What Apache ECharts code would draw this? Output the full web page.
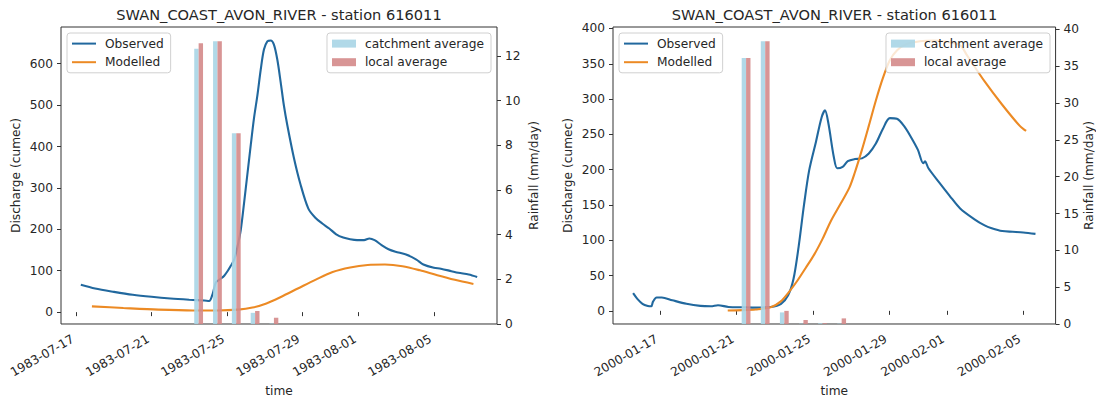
<!DOCTYPE html>
<html><head><meta charset="utf-8">
<script src="https://cdn.jsdelivr.net/npm/echarts@6/dist/echarts.min.js"></script>
<style>html,body{margin:0;padding:0;background:#fff}#c{width:1096px;height:402px}</style>
</head><body><div id="c"></div>
<script>
// ---------------- DATA ----------------
const chartTitle = 'SWAN_COAST_AVON_RIVER - station 616011';
const lineNames = ['Observed', 'Modelled'];
const barNames = ['catchment average', 'local average'];
const yNameQ = 'Discharge (cumec)';
const yNameRain = 'Rainfall (mm/day)';
const xName = 'time';

// Left event: times are days after leftStart
const leftStart = '1983-07-17';
const leftObsDay = [0.24,1.0,2.0,3.0,4.0,5.0,6.0,6.8,7.06,7.25,7.42,7.65,7.86,8.05,8.21,8.39,8.57,8.74,8.91,9.09,9.27,9.44,9.62,9.80,9.97,10.15,10.33,10.50,10.68,10.86,11.03,11.21,11.56,11.91,12.33,12.70,13.07,13.44,13.81,14.18,14.55,14.92,15.29,15.57,15.85,16.22,16.59,16.96,17.52,18.07,18.44,19.0,19.37,19.93,20.3,20.85,21.3];
const leftObsVal = [66,57,49,42,37,33,30,28,27,45,72,80,88,100,112,127,159,199,262,333,404,468,523,586,634,654,656,646,610,555,499,452,373,309,250,228,214,202,188,180,176,174,174,178,174,162,152,146,139,127,115,107,105,99,95,91,85];
const leftModDay = [0.83,2.5,4.36,6.2,7.5,8.6,9.36,10.1,10.84,11.77,12.7,13.62,14.55,15.48,16.4,17.33,18.26,19.18,20.11,21.1];
const leftModVal = [14,10,6,4,4,6,11,21,36,57,78,97,108,114,115,111,101,89,78,68];
const leftRainDate = ['1983-07-23','1983-07-24','1983-07-25','1983-07-26','1983-07-27'];
const leftCatch = [12.33,12.67,8.54,0.5,0.02];
const leftLocal = [12.57,12.67,8.54,0.58,0.28];
const leftDateTicks = ['1983-07-17','1983-07-21','1983-07-25','1983-07-29','1983-08-01','1983-08-05'];
const leftQTicks = [0,100,200,300,400,500,600];
const leftRainTicks = [0,2,4,6,8,10,12];

// Right event: times are days after rightStart
const rightStart = '2000-01-17';
const rightObsDay = [-1.41,-1.19,-0.92,-0.64,-0.46,-0.37,-0.18,0.09,0.64,1.38,2.11,2.66,3.03,3.58,4.31,5.05,5.78,6.33,6.7,6.98,7.25,7.53,7.8,8.16,8.45,8.63,8.81,9.09,9.27,9.55,9.82,10.19,10.56,10.92,11.29,11.66,12.02,12.39,12.76,13.13,13.49,13.77,13.86,14.04,14.6,15.15,15.7,16.43,16.98,17.35,17.9,18.45,19.0,19.64];
const rightObsVal = [25,17,10,7,6.5,13,19,19,15,10,7,6.5,8,5.5,5,4.6,5.5,10,22,45,91,150,199,240,274,284,265,218,202,204,212,215,216,223,237,258,273,272,262,246,228,209,212,202,182,163,145,130,121,117,113,112,111,109];
const rightModDay = [3.54,4.3,5.0,5.79,6.3,6.75,7.19,7.6,8.07,8.5,8.95,9.45,9.91,10.19,10.56,10.92,11.29,11.66,12.02,12.39,12.9,13.6,14.3,15.0,15.7,16.06,16.98,17.9,18.82,19.15];
const rightModVal = [0.5,1,2,5,13,27,43,60,80,102,128,152,175,196,228,262,298,330,355,369,378,382,383,381,376,362,325,292,262,255];
const rightRainDate = ['2000-01-21','2000-01-22','2000-01-23','2000-01-24','2000-01-25','2000-01-26'];
const rightCatch = [36.1,38.4,1.57,0.05,0.1,0.05];
const rightLocal = [36.1,38.4,1.78,0.54,0.1,0.76];
const rightDateTicks = ['2000-01-17','2000-01-21','2000-01-25','2000-01-29','2000-02-01','2000-02-05'];
const rightQTicks = [0,50,100,150,200,250,300,350,400];
const rightRainTicks = [0,5,10,15,20,25,30,35,40];

// ---------------- STYLE ----------------
const W = 1096;
const FONT = 'DejaVu Sans';
const C_OBS = '#21689e', C_MOD = '#ec8a24', C_CATCH = '#a8d5e5', C_LOCAL = '#d48a8a';
const INK = '#262626', SPINE = '#333333';
const FS = 12.2, TFS = 14.6;
const grids = [
  {left: 61, top: 27, width: 436, height: 301},
  {left: 613, top: 27, width: 443, height: 302}
];

// ---------------- HELPERS ----------------
const DAY = 86400000;
const ts = s => Date.parse(s + 'T00:00:00Z');
const toTs = (start, d) => ts(start) + d * DAY;
const pad2 = n => (n < 10 ? '0' : '') + n;
const fmtDate = v => { const d = new Date(v); return d.getUTCFullYear() + '-' + pad2(d.getUTCMonth() + 1) + '-' + pad2(d.getUTCDate()); };
const lim = (lo, hi) => { const r = hi - lo; return [lo - 0.05 * r, hi + 0.05 * r]; };
function textW(t, size) { const c = document.createElement('canvas').getContext('2d'); c.font = size + 'px "' + FONT + '"'; return c.measureText(t).width; }

function buildPanel(i, start, obsDay, obsVal, modDay, modVal, rainDate, catchV, localV, dateTicks, qTicks, rainTicks, yNameGapR) {
  const g = grids[i];
  const obs = obsDay.map((d, k) => [toTs(start, d), obsVal[k]]);
  const mod = modDay.map((d, k) => [toTs(start, d), modVal[k]]);
  const xs = obs.concat(mod).map(p => p[0]);
  const xl = lim(Math.min(...xs), Math.max(...xs));
  const ys = obsVal.concat(modVal);
  const yl = lim(Math.min(...ys), Math.max(...ys));
  const rainMax = Math.max(...catchV, ...localV) * 1.05;
  const barX = rainDate.map(s => ts(s) + 0.5 * DAY);
  const tickTs = dateTicks.map(ts);
  const tickStyle = {show: true, length: 4, lineStyle: {color: SPINE, width: 1}};
  const labStyle = {color: INK, fontSize: FS, fontFamily: FONT};
  const nameStyle = {color: INK, fontSize: FS, fontFamily: FONT};
  const xAxis = {
    gridIndex: i, type: 'value', min: xl[0], max: xl[1],
    axisLine: {show: false}, splitLine: {show: false},
    axisTick: Object.assign({customValues: tickTs}, tickStyle),
    axisLabel: Object.assign({customValues: tickTs, formatter: fmtDate, rotate: 30, margin: 12, padding: [0, 4, 0, 0]}, labStyle),
    name: xName, nameLocation: 'middle', nameGap: 59, nameTextStyle: nameStyle
  };
  const yQ = {
    gridIndex: i, type: 'value', position: 'left', min: yl[0], max: yl[1],
    axisLine: {show: false}, splitLine: {show: false},
    axisTick: Object.assign({customValues: qTicks}, tickStyle),
    axisLabel: Object.assign({customValues: qTicks, margin: 8}, labStyle),
    name: yNameQ, nameLocation: 'middle', nameGap: 39, nameTextStyle: nameStyle
  };
  const yR = {
    gridIndex: i, type: 'value', position: 'right', min: 0, max: rainMax,
    axisLine: {show: false}, splitLine: {show: false},
    axisTick: Object.assign({customValues: rainTicks}, tickStyle),
    axisLabel: Object.assign({customValues: rainTicks, margin: 8}, labStyle),
    name: yNameRain, nameLocation: 'middle', nameGap: yNameGapR, nameTextStyle: nameStyle
  };
  const xi = i, yqi = 2 * i, yri = 2 * i + 1;
  const series = [
    {type: 'line', name: lineNames[0], xAxisIndex: xi, yAxisIndex: yqi, data: obs, showSymbol: false, smooth: 0.3,
      lineStyle: {width: 2.1, color: C_OBS}, itemStyle: {color: C_OBS}, z: 2},
    {type: 'line', name: lineNames[1], xAxisIndex: xi, yAxisIndex: yqi, data: mod, showSymbol: false, smooth: 0.3,
      lineStyle: {width: 2.1, color: C_MOD}, itemStyle: {color: C_MOD}, z: 2},
    {type: 'bar', name: barNames[0], xAxisIndex: xi, yAxisIndex: yri, data: barX.map((x, k) => [x, catchV[k]]),
      barWidth: 4.4, barGap: '0%', itemStyle: {color: C_CATCH, opacity: 0.9}, z: 3},
    {type: 'bar', name: barNames[1], xAxisIndex: xi, yAxisIndex: yri, data: barX.map((x, k) => [x, localV[k]]),
      barWidth: 4.4, barGap: '0%', itemStyle: {color: C_LOCAL, opacity: 0.9}, z: 3}
  ];
  const legBase = {
    orient: 'vertical', top: 33, icon: 'rect', itemWidth: 24, itemGap: 6.6, selectedMode: false,
    padding: [4.6, 7, 4.6, 5], backgroundColor: 'rgba(255,255,255,0.8)', borderColor: '#d0d0d0', borderWidth: 1, borderRadius: 3,
    textStyle: {color: INK, fontSize: FS, fontFamily: FONT, padding: [0, 0, 0, 4]},
    itemStyle: {borderWidth: 0}, z: 6
  };
  const legends = [
    Object.assign({}, legBase, {data: lineNames, left: g.left + 6, itemHeight: 2}),
    Object.assign({}, legBase, {data: barNames, right: W - (g.left + g.width) + 6, itemHeight: 8})
  ];
  const tw = textW(chartTitle, TFS);
  const title = {text: chartTitle, left: g.left + g.width / 2 - tw / 2, top: 7, padding: 0,
    textStyle: {fontSize: TFS, fontWeight: 'normal', color: INK, fontFamily: FONT}};
  return {xAxis, yAxes: [yQ, yR], series, legends, title};
}

const P0 = buildPanel(0, leftStart, leftObsDay, leftObsVal, leftModDay, leftModVal, leftRainDate, leftCatch, leftLocal, leftDateTicks, leftQTicks, leftRainTicks, 31);
const P1 = buildPanel(1, rightStart, rightObsDay, rightObsVal, rightModDay, rightModVal, rightRainDate, rightCatch, rightLocal, rightDateTicks, rightQTicks, rightRainTicks, 25);

const option = {
  animation: false,
  backgroundColor: '#ffffff',
  textStyle: {fontFamily: FONT},
  title: [P0.title, P1.title],
  grid: grids.map(g => Object.assign({show: true, borderColor: SPINE, borderWidth: 1, backgroundColor: 'transparent', containLabel: false}, g)),
  xAxis: [P0.xAxis, P1.xAxis],
  yAxis: P0.yAxes.concat(P1.yAxes),
  legend: P0.legends.concat(P1.legends),
  series: P0.series.concat(P1.series)
};
const chart = echarts.init(document.getElementById('c'), null, {renderer: 'svg'});
chart.setOption(option);
</script>
</body></html>
